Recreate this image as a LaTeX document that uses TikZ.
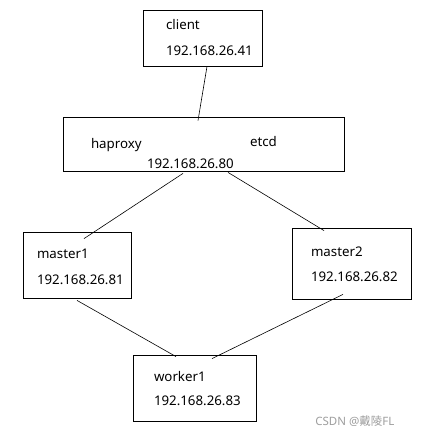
\documentclass[tikz,border=0pt]{standalone}
\usepackage{fontspec}
\setmainfont{Noto Sans}
\newfontfamily\cjk{Noto Sans CJK SC}
\usetikzlibrary{positioning,calc}

\begin{document}
\begin{tikzpicture}[x=1pt, y=-1pt, line width=0.8pt]
\tikzstyle{box} = [rectangle, draw, inner sep=0pt]
\tikzstyle{txt} = [anchor=base west, inner sep=0pt, font=\fontsize{13.3}{16}\selectfont]
\tikzstyle{line} = [draw, line width=0.6pt]

\useasboundingbox (0,0) rectangle (423,438);

% boxes
\node [box, minimum width=119pt, minimum height=56pt] (client) at (202.5,38) {};
\node [box, minimum width=281pt, minimum height=54pt] (proxy) at (203.5,144) {};
\node [box, minimum width=108pt, minimum height=66pt] (master1) at (77,265) {};
\node [box, minimum width=119pt, minimum height=71pt] (master2) at (351.5,263.5) {};
\node [box, minimum width=123pt, minimum height=66pt] (worker1) at (194.5,388) {};

% texts
\node [txt] (clientname) at ([xshift=23pt,yshift=-20pt]client.north west) {client};
\node [txt] (clientip) at ([xshift=23pt,yshift=-46pt]client.north west) {192.168.26.41};
\node [txt] (haproxy) at ([xshift=28pt,yshift=-32pt]proxy.north west) {haproxy};
\node [txt] (etcd) at ([xshift=187pt,yshift=-30pt]proxy.north west) {etcd};
\node [txt] (proxyip) at ([xshift=84pt,yshift=-52pt]proxy.north west) {192.168.26.80};
\node [txt] (m1name) at ([xshift=14pt,yshift=-27pt]master1.north west) {master1};
\node [txt] (m1ip) at ([xshift=14pt,yshift=-53pt]master1.north west) {192.168.26.81};
\node [txt] (m2name) at ([xshift=19pt,yshift=-29pt]master2.north west) {master2};
\node [txt] (m2ip) at ([xshift=19pt,yshift=-54pt]master2.north west) {192.168.26.82};
\node [txt] (w1name) at ([xshift=21pt,yshift=-27pt]worker1.north west) {worker1};
\node [txt] (w1ip) at ([xshift=21pt,yshift=-51pt]worker1.north west) {192.168.26.83};

% connectors
\path [line] ([xshift=4.5pt]client.south) -- ([xshift=-5.5pt,yshift=-4pt]proxy.north);
\path [line] ([xshift=-20.5pt,yshift=-2pt]proxy.south) -- ([xshift=7pt,yshift=-7pt]master1.north);
\path [line] ([xshift=24.5pt,yshift=-1pt]proxy.south) -- ([xshift=-27.5pt,yshift=-3pt]master2.north);
\path [line] ([yshift=-2pt]master1.south) -- ([xshift=-18.5pt,yshift=-2pt]worker1.north);
\path [line] ([xshift=-8.5pt,yshift=5pt]master2.south) -- ([xshift=17.5pt,yshift=-4pt]worker1.north);

% watermark
\node [anchor=base west, inner sep=0pt, text=black!38, font=\fontsize{11.5}{14}\selectfont] (mark) at (315,425) {CSDN @{\cjk 戴陵}FL};
\end{tikzpicture}
\end{document}
